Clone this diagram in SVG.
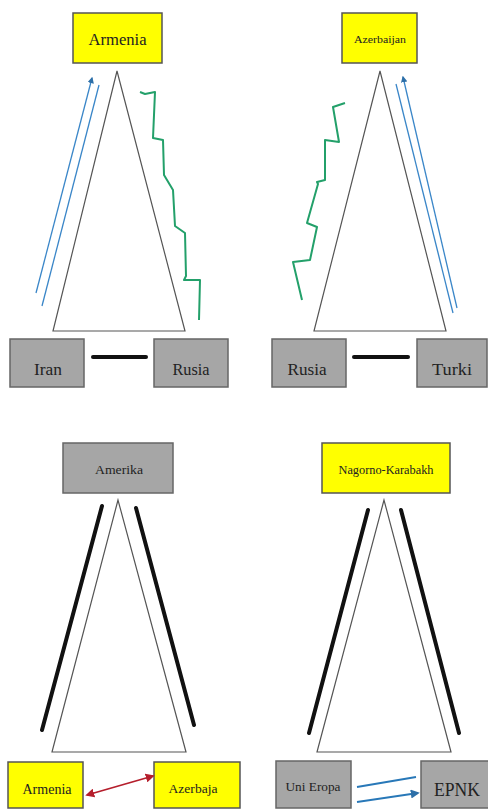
<svg xmlns="http://www.w3.org/2000/svg" width="488" height="809" viewBox="0 0 488 809">
  <defs>
    <marker id="ahBlue" viewBox="0 0 10 10" refX="8" refY="5" markerWidth="5" markerHeight="5" orient="auto-start-reverse">
      <path d="M0,0 L10,5 L0,10 z" fill="#2d6fa8"/>
    </marker>
    <marker id="ahRed" viewBox="0 0 10 10" refX="8" refY="5" markerWidth="5" markerHeight="5" orient="auto-start-reverse">
      <path d="M0,0 L10,5 L0,10 z" fill="#b51e2c"/>
    </marker>
  </defs>
  <style>
    .yel { fill: #ffff00; stroke: #555; stroke-width: 1.5; }
    .gry { fill: #a6a6a6; stroke: #666; stroke-width: 1.5; }
    .tri { fill: #fff; stroke: #555; stroke-width: 1.2; }
    .lbl { font-family: "Liberation Serif", "Times New Roman", serif; fill: #222; text-anchor: middle; }
    .bar { stroke: #111; stroke-width: 4; fill: none; stroke-linecap: round; }
    .blue { stroke: #3a86c8; stroke-width: 1.3; fill: none; }
    .wave { stroke: #23a06a; stroke-width: 2; fill: none; stroke-linejoin: round; }
  </style>
  <rect width="488" height="809" fill="#fff"/>

  <!-- Panel 1: Armenia over Iran and Rusia -->
  <g id="tri1"><polygon class="tri" points="117,71 53,331 185,331"/></g>
  <g id="armenia-top">
    <rect class="yel" x="73" y="13" width="89" height="50"/>
    <text class="lbl" x="117.5" y="45" font-size="16" textLength="58" lengthAdjust="spacingAndGlyphs">Armenia</text>
  </g>
  <g id="iran">
    <rect class="gry" x="10" y="339" width="74" height="48"/>
    <text class="lbl" x="48" y="375" font-size="17" textLength="28" lengthAdjust="spacingAndGlyphs">Iran</text>
  </g>
  <g id="rusia1">
    <rect class="gry" x="154" y="339" width="74" height="48"/>
    <text class="lbl" x="191" y="375" font-size="17" textLength="37" lengthAdjust="spacingAndGlyphs">Rusia</text>
  </g>

  <!-- Panel 2: Azerbaijan over Rusia and Turki -->
  <g id="tri2"><polygon class="tri" points="380,71 314,331 446,331"/></g>
  <g id="azerbaijan-top">
    <rect class="yel" x="342" y="13" width="75" height="50"/>
    <text class="lbl" x="380" y="43" font-size="11" textLength="52" lengthAdjust="spacingAndGlyphs">Azerbaijan</text>
  </g>
  <g id="rusia2">
    <rect class="gry" x="272" y="339" width="74" height="48"/>
    <text class="lbl" x="307" y="375" font-size="17" textLength="39" lengthAdjust="spacingAndGlyphs">Rusia</text>
  </g>
  <g id="turki">
    <rect class="gry" x="417" y="339" width="70" height="48"/>
    <text class="lbl" x="452" y="375" font-size="17" textLength="40" lengthAdjust="spacingAndGlyphs">Turki</text>
  </g>

  <!-- Panel 3: Amerika over Armenia and Azerbaja -->
  <g id="tri3"><polygon class="tri" points="118,500 52,752 186,752"/></g>
  <g id="amerika">
    <rect class="gry" x="63" y="443" width="110" height="50"/>
    <text class="lbl" x="119" y="474" font-size="12" textLength="48" lengthAdjust="spacingAndGlyphs">Amerika</text>
  </g>
  <g id="armenia-bottom">
    <rect class="yel" x="8" y="762" width="75" height="46"/>
    <text class="lbl" x="47" y="794" font-size="14" textLength="49" lengthAdjust="spacingAndGlyphs">Armenia</text>
  </g>
  <g id="azerbaja">
    <rect class="yel" x="154" y="762" width="86" height="46"/>
    <text class="lbl" x="193" y="793" font-size="13" textLength="49" lengthAdjust="spacingAndGlyphs">Azerbaja</text>
  </g>

  <!-- Panel 4: Nagorno-Karabakh over Uni Eropa and EPNK -->
  <g id="tri4"><polygon class="tri" points="384,500 317,752 451,752"/></g>
  <g id="nagorno-karabakh">
    <rect class="yel" x="322" y="443" width="128" height="50"/>
    <text class="lbl" x="386" y="474" font-size="12" textLength="95" lengthAdjust="spacingAndGlyphs">Nagorno-Karabakh</text>
  </g>
  <g id="uni-eropa">
    <rect class="gry" x="276" y="761" width="75" height="47"/>
    <text class="lbl" x="313" y="791" font-size="12" textLength="55" lengthAdjust="spacingAndGlyphs">Uni Eropa</text>
  </g>
  <g id="epnk">
    <rect class="gry" x="421" y="761" width="68" height="47"/>
    <text class="lbl" x="457" y="796" font-size="19" textLength="46" lengthAdjust="spacingAndGlyphs">EPNK</text>
  </g>

  <!-- Connectors -->
  <g id="connectors">
    <!-- panel 1 -->
    <line class="blue" x1="36" y1="293" x2="92" y2="78" marker-end="url(#ahBlue)"/>
    <line class="blue" x1="42" y1="306" x2="99" y2="85"/>
    <polyline class="wave" points="140,92 145,94 155,92 153,138 163,140 164,175 173,190 175,226 185,233 186,276 184,280 200,280 199,320"/>
    <line class="bar" x1="93" y1="357" x2="146" y2="357"/>
    <!-- panel 2 -->
    <line class="blue" x1="457" y1="308" x2="403" y2="77" marker-end="url(#ahBlue)"/>
    <line class="blue" x1="453" y1="313" x2="396" y2="84"/>
    <polyline class="wave" points="345,103 333,107 339,142 325,140 325,180 317,182 318,184 307,223 317,227 310,260 293,262 302,300"/>
    <line class="bar" x1="354" y1="357" x2="408" y2="357"/>
    <!-- panel 3 -->
    <line class="bar" x1="102" y1="506" x2="42" y2="730"/>
    <line class="bar" x1="136" y1="508" x2="194" y2="725"/>
    <line stroke="#b51e2c" stroke-width="1.8" x1="87" y1="795" x2="153" y2="776" marker-start="url(#ahRed)" marker-end="url(#ahRed)"/>
    <!-- panel 4 -->
    <line class="bar" x1="368" y1="510" x2="309" y2="733"/>
    <line class="bar" x1="401" y1="510" x2="459" y2="733"/>
    <line stroke="#2878b8" stroke-width="1.8" x1="357" y1="787" x2="416" y2="777"/>
    <line stroke="#2878b8" stroke-width="1.8" x1="357" y1="802" x2="418" y2="793" marker-end="url(#ahBlue)"/>
  </g>
</svg>
